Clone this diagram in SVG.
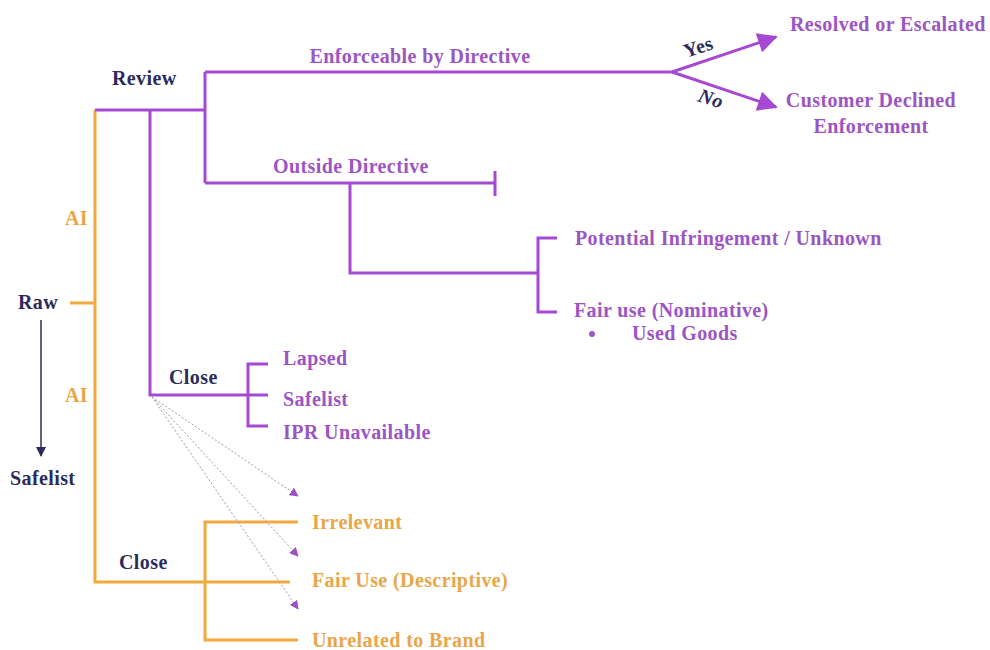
<svg xmlns="http://www.w3.org/2000/svg" width="990" height="650" viewBox="0 0 990 650">
<defs>
<style>
text{font-family:"Liberation Serif","Times New Roman",serif;font-weight:bold;font-size:20px;letter-spacing:0.4px}
.p{fill:#9b55c4}
.o{fill:#e9a648}
.n{fill:#2b2b5c}
.lp{stroke:#a548d4;stroke-width:3;fill:none}
.lo{stroke:#f2a93b;stroke-width:3;fill:none}
.dot{stroke:#9a9aaa;stroke-width:1;stroke-dasharray:2 2;fill:none}
</style>
<marker id="ah" viewBox="0 0 10 10" refX="9" refY="5" markerWidth="9" markerHeight="9" orient="auto" markerUnits="userSpaceOnUse"><path d="M0,0 L10,5 L0,10 z" fill="#9b4fc4"/></marker>
<marker id="big" viewBox="0 0 10 10" refX="9" refY="5" markerWidth="24" markerHeight="20" orient="auto" markerUnits="userSpaceOnUse"><path d="M0,0 L10,5 L0,10 z" fill="#a548d4"/></marker>
<marker id="nav" viewBox="0 0 10 10" refX="9" refY="5" markerWidth="10" markerHeight="10" orient="auto" markerUnits="userSpaceOnUse"><path d="M0,0 L10,5 L0,10 z" fill="#2b2b5c"/></marker>
</defs>
<rect width="990" height="650" fill="#fff"/>
<g id="connectors">
<path class="lo" d="M95,110 V582 H290"/>
<path class="lo" d="M70,303 H95" stroke-width="1.5"/>
<path class="lo" d="M298,522 H205 V640 H298"/>
<path class="lp" d="M95,110 H205"/>
<path class="lp" d="M150,110 V395 H268"/>
<path class="lp" d="M268,364 H248 V426 H268"/>
<path class="lp" d="M205,72 V183"/>
<path class="lp" d="M205,72 H672"/>
<path class="lp" d="M672,72 L776,37" marker-end="url(#big)"/>
<path class="lp" d="M672,72 L776,107" marker-end="url(#big)"/>
<path class="lp" d="M205,183 H495 M495,171 V196"/>
<path class="lp" d="M350,183 V273 H538"/>
<path class="lp" d="M557,238 H538 V312 H557"/>
<path stroke="#2b2b5c" stroke-width="1.5" d="M41,320 V456" marker-end="url(#nav)"/>
<path class="dot" d="M152,397 L298,496" marker-end="url(#ah)"/>
<path class="dot" d="M152,397 L298,556" marker-end="url(#ah)"/>
<path class="dot" d="M152,397 L298,609" marker-end="url(#ah)"/>
</g>
<g id="raw"><text class="n" x="18" y="309">Raw</text></g>
<g id="safelist-start"><text class="n" x="10" y="485">Safelist</text></g>
<g id="ai1"><text class="o" x="65" y="225">AI</text></g>
<g id="ai2"><text class="o" x="65" y="402">AI</text></g>
<g id="review"><text class="n" x="112" y="85">Review</text></g>
<g id="enforceable"><text class="p" x="420" y="63" text-anchor="middle">Enforceable by Directive</text></g>
<g id="yes"><text class="n" x="0" y="0" transform="translate(686,58) rotate(-18)">Yes</text></g>
<g id="no"><text class="n" x="0" y="0" font-style="italic" transform="translate(697,101) rotate(18)">No</text></g>
<g id="resolved"><text class="p" x="790" y="31">Resolved or Escalated</text></g>
<g id="declined"><text class="p" x="871" y="107" text-anchor="middle">Customer Declined</text><text class="p" x="871" y="133" text-anchor="middle">Enforcement</text></g>
<g id="outside"><text class="p" x="273" y="173">Outside Directive</text></g>
<g id="potential"><text class="p" x="575" y="245">Potential Infringement / Unknown</text></g>
<g id="fairuse-nom"><text class="p" x="574" y="317">Fair use (Nominative)</text><circle cx="592" cy="334" r="3" fill="#9b55c4"/><text class="p" x="632" y="340">Used Goods</text></g>
<g id="close-review"><text class="n" x="169" y="384">Close</text></g>
<g id="lapsed"><text class="p" x="283" y="365">Lapsed</text></g>
<g id="safelist"><text class="p" x="283" y="406">Safelist</text></g>
<g id="ipr"><text class="p" x="283" y="439">IPR Unavailable</text></g>
<g id="close-ai"><text class="n" x="119" y="569">Close</text></g>
<g id="irrelevant"><text class="o" x="312" y="529">Irrelevant</text></g>
<g id="fairuse-desc"><text class="o" x="312" y="587">Fair Use (Descriptive)</text></g>
<g id="unrelated"><text class="o" x="312" y="647">Unrelated to Brand</text></g>
</svg>
